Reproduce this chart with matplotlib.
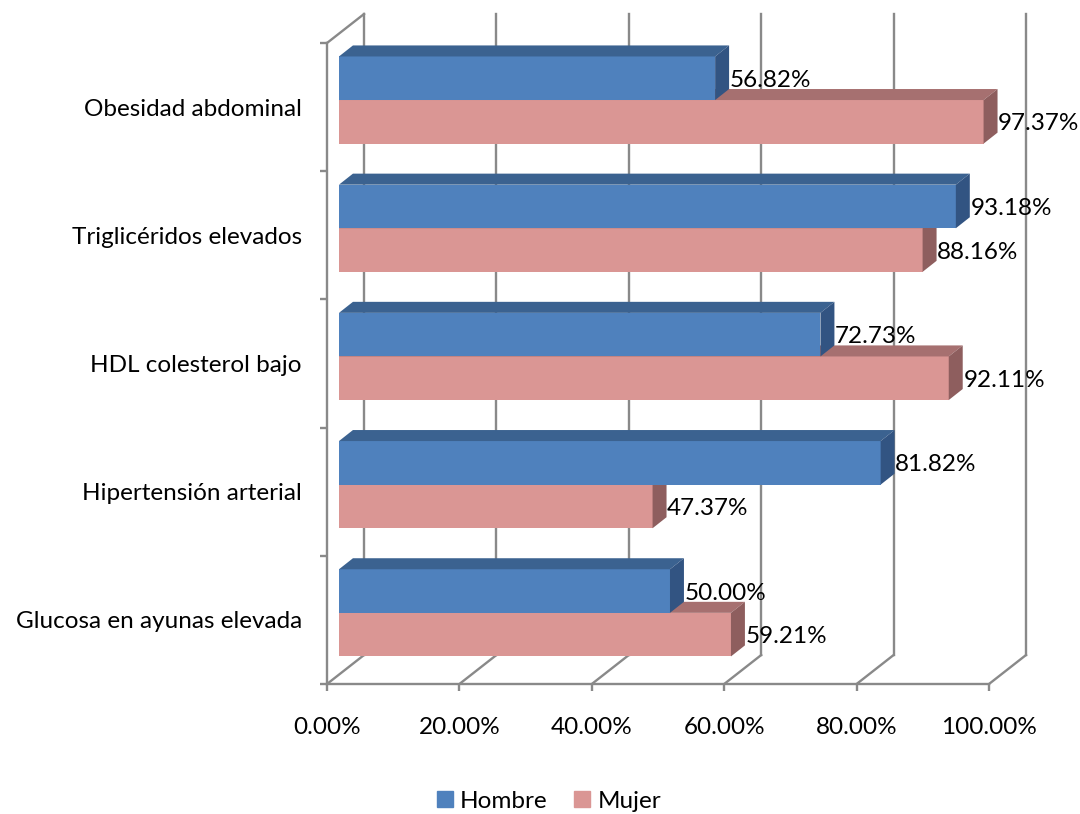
import matplotlib
matplotlib.use('Agg')
import matplotlib.pyplot as plt
from matplotlib.patches import Polygon, Patch

plt.rcParams['font.family'] = ['Lato', 'DejaVu Sans']

# Categories bottom to top, percentages per sex
categories = ['Glucosa en ayunas elevada', 'Hipertensión arterial', 'HDL colesterol bajo',
              'Triglicéridos elevados', 'Obesidad abdominal']
hombre = [50.00, 81.82, 72.73, 93.18, 56.82]
mujer = [59.21, 47.37, 92.11, 88.16, 97.37]
xticks = [0, 20, 40, 60, 80, 100]
series = ['Hombre', 'Mujer']

# face colours: front, top, side
blue = ('#4f81bd', '#3b6290', '#325482')
pink = ('#da9694', '#a67070', '#8e5e5e')
grid = '#898989'
fs = 17.5

W, H = 1080, 814
fig = plt.figure(figsize=(W / 100, H / 100), dpi=100)
ax = fig.add_axes([327 / W, (H - 684) / H, (989 - 327) / W, (684 - 43) / H])
ax.set_xlim(0, 100)
ax.set_ylim(0, 5)

# 3-d depth of the plot box and of the bars, in data units
wdx, wdy = 5.59, 0.226
fdx, fdy = 1.81, 0.055
bdx, bdy = 2.11, 0.086
bh = 0.34

# back wall gridlines and floor
for v in xticks:
    ax.plot([v + wdx, v + wdx], [wdy, 5 + wdy], color=grid, lw=1.7, zorder=1, clip_on=False)
    ax.plot([v, v + wdx], [0, wdy], color=grid, lw=1.7, zorder=1, clip_on=False)
# left wall
ax.plot([0, wdx], [5, 5 + wdy], color=grid, lw=1.7, zorder=1, clip_on=False)

def bar3d(y0, val, cols):
    y1 = y0 + bh
    x1 = fdx + val
    ax.barh(y0 + bh / 2, val, height=bh, left=fdx, color=cols[0], zorder=3)
    top = [(fdx, y1), (x1, y1), (x1 + bdx, y1 + bdy), (fdx + bdx, y1 + bdy)]
    side = [(x1, y0), (x1, y1), (x1 + bdx, y1 + bdy), (x1 + bdx, y0 + bdy)]
    ax.add_patch(Polygon(top, closed=True, fc=cols[1], ec='none', zorder=3, clip_on=False))
    ax.add_patch(Polygon(side, closed=True, fc=cols[2], ec='none', zorder=3, clip_on=False))
    ax.text(x1 + bdx + 0.1, y0 + bh / 2 - 0.016, f'{val:.2f}%', fontsize=fs,
            ha='left', va='center', zorder=5, clip_on=False)

for k in range(len(categories)):
    c = k + 0.5 + fdy
    bar3d(c - bh, mujer[k], pink)
    bar3d(c, hombre[k], blue)

for s in ['top', 'right']:
    ax.spines[s].set_visible(False)
for s in ['left', 'bottom']:
    ax.spines[s].set_color(grid)
    ax.spines[s].set_linewidth(1.7)

ax.set_xticks(xticks)
ax.set_xticklabels([f'{v:.2f}%' for v in xticks], fontsize=fs)
ax.tick_params(axis='x', length=5, width=1.7, color=grid, pad=19)
ax.set_yticks(range(6))
ax.set_yticklabels([])
ax.set_yticks([k + 0.5 for k in range(len(categories))], minor=True)
ax.set_yticklabels(categories, minor=True, fontsize=fs)
ax.tick_params(axis='y', which='major', length=5, width=1.7, color=grid)
ax.tick_params(axis='y', which='minor', length=0, pad=18)

handles = [Patch(color=blue[0]), Patch(color=pink[0])]
fig.legend(handles, series, loc='center', bbox_to_anchor=(549 / W, 13 / H), ncol=2,
           frameon=False, fontsize=fs, handlelength=0.65, handleheight=0.65,
           handletextpad=0.3, columnspacing=1.1)

fig.savefig('out.png', dpi=100)
